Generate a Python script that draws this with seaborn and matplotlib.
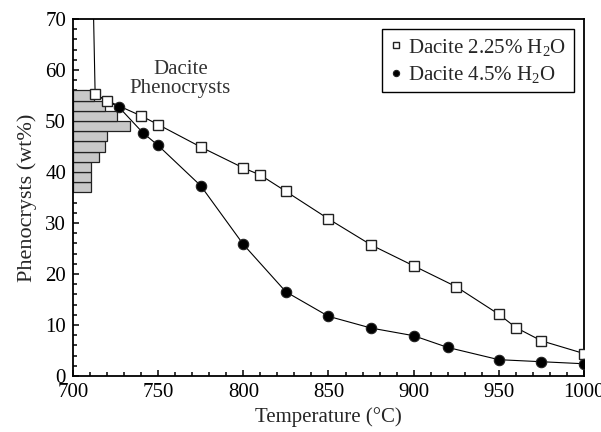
import matplotlib
matplotlib.use("Agg")
import matplotlib.pyplot as plt
import seaborn as sns
import pandas as pd
from matplotlib.ticker import MultipleLocator

# Dacite 2.25% H2O
t_225 = [713, 720, 740, 750, 775, 800, 810, 825, 850, 875, 900, 925, 950, 960, 975, 1000]
p_225 = [55.2, 54.0, 51.0, 49.3, 44.9, 40.8, 39.4, 36.2, 30.8, 25.7, 21.6, 17.5, 12.1, 9.5, 6.9, 4.4]
# curve leaves the top of the frame above the first point
t_225_top = 711.8
p_225_top = 75

# Dacite 4.5% H2O
t_45 = [727, 741, 750, 775, 800, 825, 850, 875, 900, 920, 950, 975, 1000]
p_45 = [52.7, 47.7, 45.2, 37.3, 25.8, 16.5, 11.7, 9.4, 7.9, 5.6, 3.2, 2.8, 2.4]

# phenocryst histogram (bins of 2 wt%, bar length in degrees from 700)
hist_lo = [36, 38, 40, 42, 44, 46, 48, 50, 52, 54]
hist_len = [10.4, 10.4, 10.4, 15.3, 19.0, 20.0, 33.3, 26.0, 18.6, 12.3]

sns.set_style("ticks")
plt.rcParams['font.family'] = ['Liberation Serif', 'DejaVu Serif']
plt.rcParams['mathtext.fontset'] = 'custom'
plt.rcParams['mathtext.rm'] = 'Liberation Serif'
plt.rcParams['mathtext.it'] = 'Liberation Serif:italic'

fig = plt.figure(figsize=(6.01, 4.32), dpi=100)
ax = fig.add_axes([73 / 601, 1 - 376 / 432, 511 / 601, 357 / 432])

ax.barh([y + 1 for y in hist_lo], hist_len, height=2, left=700,
        color='#c8c8c8', edgecolor='#222222', linewidth=0.9, zorder=1)

df1 = pd.DataFrame({"T": [t_225_top] + t_225, "P": [p_225_top] + p_225})
df2 = pd.DataFrame({"T": [t_225[0]] + t_45, "P": [p_225[0]] + p_45})
sns.lineplot(data=df1, x="T", y="P", sort=False, color='black', lw=0.8, ax=ax, zorder=2)
sns.lineplot(data=df2, x="T", y="P", sort=False, color='black', lw=0.8, ax=ax, zorder=2)

ax.plot(t_225, p_225, ls='none', marker='s', ms=7.5, mfc='white', mec='#222222',
        mew=1.0, zorder=3, label='Dacite 2.25% H$_2$O')
ax.plot(t_45, p_45, ls='none', marker='o', ms=7.5, mfc='black', mec='#222222',
        mew=0.8, zorder=3, label='Dacite 4.5% H$_2$O')

ax.text(763, 58.2, "Dacite\nPhenocrysts", ha='center', va='center',
        fontsize=15, color='#333333', linespacing=1.0)

ax.set_xlim(700, 1000)
ax.set_ylim(0, 70)
ax.xaxis.set_major_locator(MultipleLocator(50))
ax.xaxis.set_minor_locator(MultipleLocator(10))
ax.yaxis.set_major_locator(MultipleLocator(10))
ax.yaxis.set_minor_locator(MultipleLocator(2))
ax.tick_params(which='both', direction='in', width=1.1, labelsize=15, colors='black')
ax.tick_params(which='major', length=4.5, pad=5)
ax.tick_params(which='minor', length=3)
for s in ax.spines.values():
    s.set_linewidth(1.3)
    s.set_color('black')

ax.set_xlabel("Temperature (°C)", fontsize=15, labelpad=4)
ax.set_ylabel("Phenocrysts (wt%)", fontsize=16, labelpad=6)

leg = ax.legend(loc='upper right', fontsize=15, frameon=True, fancybox=False,
                edgecolor='black', framealpha=1, markerscale=0.6,
                handlelength=0.6, handletextpad=0.3, borderpad=0.35,
                labelspacing=0.3, borderaxespad=0.5)
leg.get_frame().set_linewidth(1.0)

fig.savefig("out.png", dpi=100)
